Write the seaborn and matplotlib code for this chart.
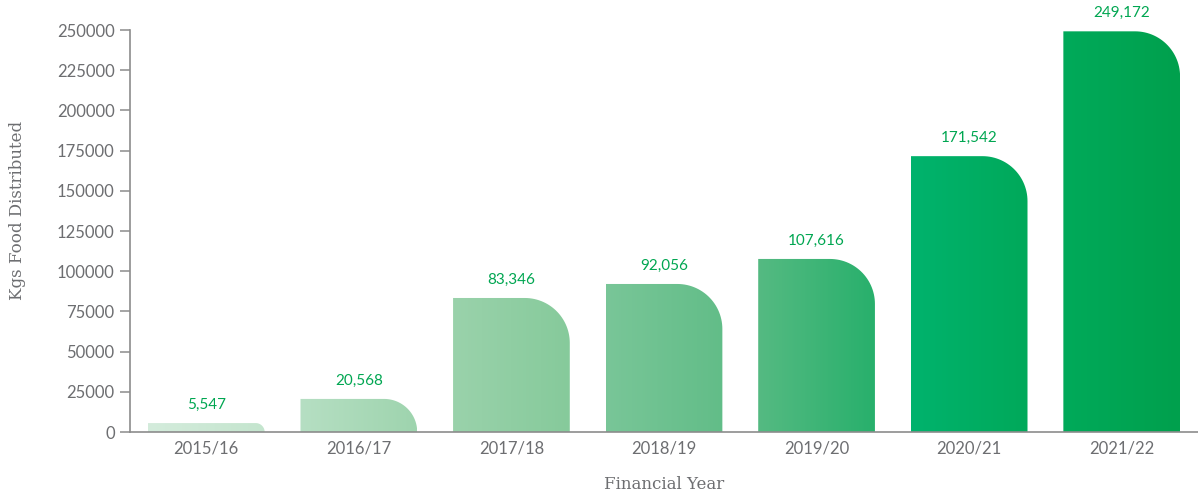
import numpy as np
import pandas as pd
import matplotlib
matplotlib.use("Agg")
import matplotlib.pyplot as plt
import matplotlib.transforms as mtransforms
import seaborn as sns
from matplotlib.path import Path
from matplotlib.patches import PathPatch
from matplotlib.colors import LinearSegmentedColormap

years = ["2015/16", "2016/17", "2017/18", "2018/19", "2019/20", "2020/21", "2021/22"]
kgs = [5547, 20568, 83346, 92056, 107616, 171542, 249172]
value_labels = ["5,547", "20,568", "83,346", "92,056", "107,616", "171,542", "249,172"]
grad_start = ["#d4ecdc", "#b6dfc3", "#9ad2ab", "#79c698", "#55ba82", "#00b36d", "#00aa5a"]
grad_end = ["#c4e5ce", "#9ed4ae", "#86ca9b", "#62bd88", "#28b06c", "#00a95a", "#00a04d"]
yticks = [0, 25000, 50000, 75000, 100000, 125000, 150000, 175000, 200000, 225000, 250000]

df = pd.DataFrame({"year": years, "kgs": kgs})

sns.set_theme(style="white")
plt.rcParams["font.family"] = ["Lato", "DejaVu Sans"]

fig = plt.figure(figsize=(11.98, 4.98), dpi=100)
ax = fig.add_axes([130 / 1198, 1 - 432 / 498, 1 - 130 / 1198, (432 - 30) / 498])

sns.barplot(data=df, x="year", y="kgs", ax=ax, width=0.765, color="#00a651", saturation=1)

ax.set_xlim(-0.5, 6.5)
ax.set_ylim(0, 250000)

fig.canvas.draw()
p0 = ax.transData.transform((0, 0))
p1 = ax.transData.transform((1, 1))
px_x = p1[0] - p0[0]
px_y = p1[1] - p0[1]
r_px = 45.0

label_offset = mtransforms.ScaledTranslation(0, 8 / 72, fig.dpi_scale_trans)

patches = list(ax.patches)
for i, bar in enumerate(patches):
    x0 = bar.get_x()
    w = bar.get_width()
    h = bar.get_height()
    bar.set_visible(False)
    h_px = h * px_y
    r = min(r_px, h_px)
    rx = r / px_x
    ry = r / px_y
    n = 30
    theta = np.linspace(np.pi / 2, 0, n)
    cx = x0 + w - rx
    cy = h - ry
    arc = [(cx + rx * np.cos(t), cy + ry * np.sin(t)) for t in theta]
    verts = [(x0, 0), (x0, h), (cx, h)] + arc + [(x0 + w, 0), (x0, 0)]
    codes = [Path.MOVETO] + [Path.LINETO] * (len(verts) - 2) + [Path.CLOSEPOLY]
    path = Path(verts, codes)
    pp = PathPatch(path, facecolor="none", edgecolor="none", transform=ax.transData)
    ax.add_patch(pp)
    cmap = LinearSegmentedColormap.from_list(f"g{i}", [grad_start[i], grad_end[i]])
    grad = np.linspace(0, 1, 256).reshape(1, -1)
    im = ax.imshow(grad, cmap=cmap, aspect="auto", extent=[x0, x0 + w, 0, h],
                   origin="lower", zorder=2, interpolation="bilinear")
    im.set_clip_path(pp)
    ax.text(x0 + w / 2, h, value_labels[i], ha="center", va="bottom",
            fontsize=11, color="#00a651", zorder=3,
            transform=ax.transData + label_offset)

ax.set_xlim(-0.5, 6.5)
ax.set_ylim(0, 250000)
ax.set_yticks(yticks)
ax.set_yticklabels([str(v) for v in yticks])

for side in ["top", "right"]:
    ax.spines[side].set_visible(False)
for side in ["left", "bottom"]:
    ax.spines[side].set_color("#8c8c8c")
    ax.spines[side].set_linewidth(1.2)

ax.tick_params(axis="y", which="major", left=True, length=7, width=1.1, color="#8c8c8c",
               labelsize=12, labelcolor="#6d6e71", pad=4)
ax.tick_params(axis="x", which="major", bottom=False, length=0,
               labelsize=12, labelcolor="#6d6e71", pad=6)

ax.set_xlabel("Financial Year", fontsize=12, color="#6d6e71", family=["DejaVu Serif"], labelpad=14)
ax.set_ylabel("Kgs Food Distributed", fontsize=12, color="#6d6e71", family=["DejaVu Serif"])
ax.yaxis.set_label_coords(-0.0974, 0.552)
ax.grid(False)
ax.set_facecolor("white")

fig.savefig("out.png", dpi=100, facecolor="white")
